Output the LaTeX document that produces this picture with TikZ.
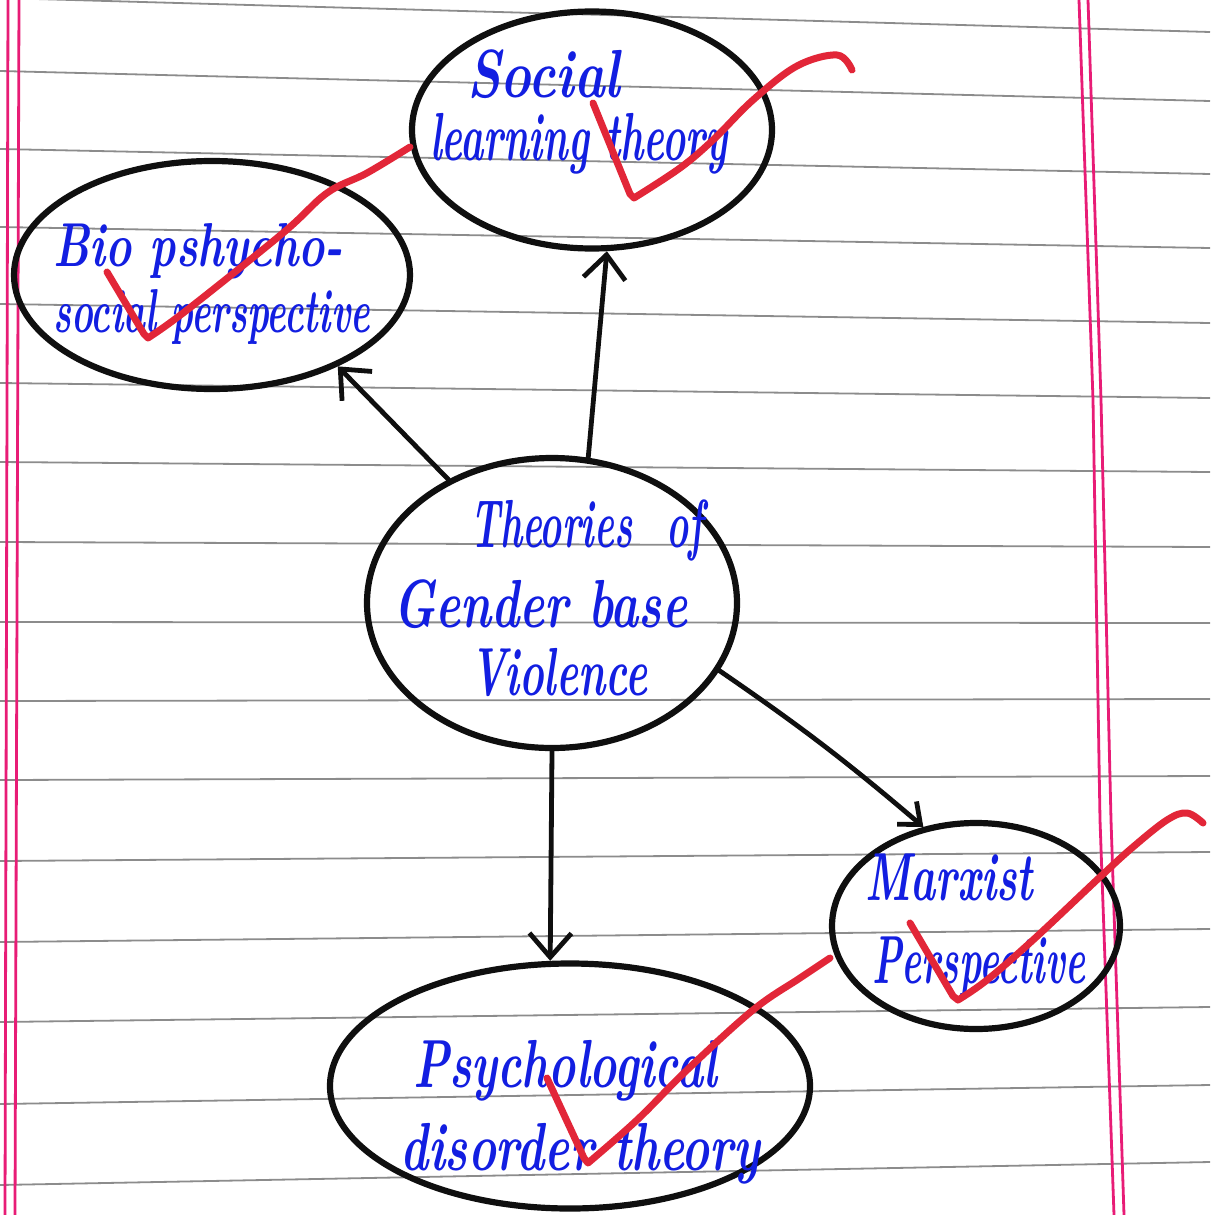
\documentclass[tikz,border=0pt]{standalone}
\usepackage{fontspec}
\usetikzlibrary{arrows.meta,shapes.geometric}
\definecolor{ink}{RGB}{15,15,15}
\definecolor{penblue}{RGB}{18,30,225}
\definecolor{tickred}{RGB}{226,38,56}
\definecolor{rulegray}{RGB}{140,140,140}
\definecolor{marginpink}{RGB}{232,28,118}
% handwritten line: stretched horizontally to a given width, natural height kept
\newcommand{\handw}[2]{\resizebox{#1pt}{\height}{#2}}
\tikzset{
  bubble/.style={ellipse, draw=ink, line width=6.2pt, inner sep=0pt},
  link/.style={draw=ink, line width=4.8pt, line cap=round,
    -{Straight Barb[length=24pt,width=42pt]}},
  hand/.style={inner sep=0pt, anchor=base west, text=penblue,
    font=\fontsize{68}{70}\selectfont\bfseries\itshape},
  handsmall/.style={hand, font=\fontsize{62}{64}\selectfont\bfseries\itshape},
  tick/.style={draw=tickred, line width=7pt, line cap=round, line join=round},
  ruling/.style={draw=rulegray, line width=1.8pt},
  margin/.style={draw=marginpink, line width=2.8pt}
}
\begin{document}
\begin{tikzpicture}[x=1pt,y=-1pt]
\useasboundingbox (0,0) rectangle (1210,1215);
\fill[white] (0,0) rectangle (1210,1215);

% ruled paper
\foreach \l/\r in {-2/32,71/101,149/174,227/248,304/323,383/398,462/472,542/547,
                   622/623,701/699,780/776,861/852,942/929,1022/1007,1104/1085,1185/1162}
  \draw[ruling] (0,\l) -- (1210,\r);
\draw[margin] (8,0) -- (5,1215);
\draw[margin] (19,0) -- (15,1215);
\draw[margin] (1079,0) -- (1093,400) -- (1100,820) -- (1114,1215);
\draw[margin] (1088,0) -- (1101,400) -- (1111,820) -- (1124,1215);

% bubbles
\node[bubble, minimum width=360pt, minimum height=237pt] (slt) at (592,130) {};
\node[bubble, minimum width=396pt, minimum height=228pt] (bio) at (212,275) {};
\node[bubble, minimum width=370pt, minimum height=290pt] (gbv) at (552,603) {};
\node[bubble, minimum width=288pt, minimum height=206pt] (mxp) at (976,926) {};
\node[bubble, minimum width=480pt, minimum height=245pt] (pdt) at (570,1086) {};

% labels
\node[hand] (slt-a) at (467,97)  {\handw{153}{Social}};
\node[hand] (slt-b) at (430,160) {\handw{297}{learning theory}};
\node[handsmall] (bio-a) at (53,266)  {\handw{290}{Bio pshycho-}};
\node[handsmall] (bio-b) at (53,332)  {\handw{317}{social perspective}};
\node[hand] (gbv-a) at (470,547) {\handw{233}{Theories\hspace{0.9em}of}};
\node[hand] (gbv-b) at (393,627) {\handw{294}{Gender base}};
\node[hand] (gbv-c) at (470,695) {\handw{177}{Violence}};
\node[hand] (mxp-a) at (865,900) {\handw{168}{Marxist}};
\node[hand] (mxp-b) at (872,983) {\handw{213}{Perspective}};
\node[hand] (pdt-a) at (413,1087) {\handw{304}{Psychological}};
\node[hand] (pdt-b) at (400,1170) {\handw{360}{disorder theory}};

% arrows
\draw[link] (gbv.76) -- (slt.-83);
\draw[link] (gbv.130) -- (bio.-36);
\draw[link, -{Straight Barb[length=18pt,width=30pt]}] (gbv.-22) to[bend left=3] (mxp.118);
\draw[link] (gbv.-90) -- (pdt.99);

% red ticks
\draw[tick] (593,103) -- (630,194) -- plot[smooth, tension=0.6] coordinates
  {(634,198) (680,168) (713,140) (753,100) (797,66) (837,55) (852,70)};
\draw[tick] (107,272) -- (144,334) -- plot[smooth, tension=0.6] coordinates
  {(148,338) (187,310) (283,233) (327,193) (367,173) (410,147)};
\draw[tick] (910,923) -- (953,996) -- plot[smooth, tension=0.6] coordinates
  {(958,1000) (987,980) (1033,940) (1100,877) (1133,847) (1167,820) (1187,813) (1203,823)};
\draw[tick] (547,1078) -- (584,1158) -- plot[smooth, tension=0.6] coordinates
  {(588,1163) (637,1120) (687,1070) (753,1010) (800,978) (830,958)};
\end{tikzpicture}
\end{document}
